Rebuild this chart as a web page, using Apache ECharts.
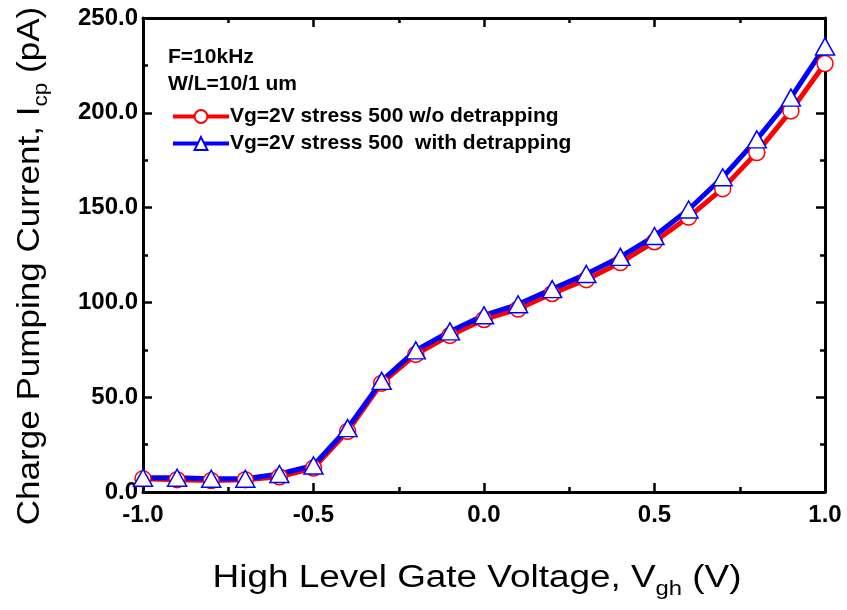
<!DOCTYPE html>
<html>
<head>
<meta charset="utf-8">
<script src="https://cdn.jsdelivr.net/npm/echarts@6/dist/echarts.min.js"></script>
<style>html,body{margin:0;padding:0;background:#fff}#c{width:847px;height:610px}</style>
</head>
<body>
<div id="c"></div>
<script>
var xValues = [-1.0,-0.9,-0.8,-0.7,-0.6,-0.5,-0.4,-0.3,-0.2,-0.1,0.0,0.1,0.2,0.3,0.4,0.5,0.6,0.7,0.8,0.9,1.0];
var redValues = [7,6.5,6,6.5,8,12.6,32,57.4,72.6,82.6,91,96.5,104.7,112,121,132,145,160,179,201,226];
var blueValues = [7.5,7.5,7,7,9.5,14,33.7,58.6,74.7,84.7,93.2,99,107,115,124,135,149,166,186,208,235];
var seriesNames = ['Vg=2V stress 500 w/o detrapping', 'Vg=2V stress 500  with detrapping'];
var noteLines = ['F=10kHz', 'W/L=10/1 um'];
var xTitle = ['High Level Gate Voltage, V', 'gh', ' (V)'];
var yTitle = ['Charge Pumping Current, I', 'cp', ' (pA)'];

function pairs(ys){ return xValues.map(function(x,i){ return [x, ys[i]]; }); }

var chart = echarts.init(document.getElementById('c'));
var axisLine = {show:true, onZero:false, lineStyle:{color:'#000', width:3}};
var tick = {show:true, inside:true, length:9, lineStyle:{color:'#000', width:2.5}};
var minor = {show:true, splitNumber:2, length:5, lineStyle:{color:'#000', width:2.5}};
var tickFont = {fontFamily:'Liberation Sans, Arial', fontWeight:'bold', fontSize:24, color:'#000'};
var titleRich = {
  a:{fontFamily:'Liberation Sans, Arial', fontSize:31, color:'#000'},
  s:{fontFamily:'Liberation Sans, Arial', fontSize:20, color:'#000', padding:[22,0,0,0]}
};

chart.setOption({
  animation:false,
  grid:{left:143, right:22, top:18, bottom:118, containLabel:false},
  legend:{
    orient:'vertical', left:166, top:101, itemGap:6, itemWidth:56, itemHeight:16,
    data:seriesNames,
    lineStyle:{width:4},
    textStyle:{fontFamily:'Liberation Sans, Arial', fontWeight:'bold', fontSize:21, color:'#000', padding:[0,0,0,-4]}
  },
  graphic:[
    {type:'text', left:168, top:47, style:{text:noteLines[0], font:'bold 21px "Liberation Sans", Arial', fill:'#000'}},
    {type:'text', left:168, top:74, style:{text:noteLines[1], font:'bold 21px "Liberation Sans", Arial', fill:'#000'}},
    {type:'text', x:477, y:578, scaleX:1.19, scaleY:1,
     style:{text:'{a|'+xTitle[0]+'}{s|'+xTitle[1]+'}{a|'+xTitle[2]+'}', rich:titleRich, align:'center', verticalAlign:'middle'}},
    {type:'text', x:30, y:266, rotation:Math.PI/2, scaleX:1.13, scaleY:1,
     style:{text:'{a|'+yTitle[0]+'}{s|'+yTitle[1]+'}{a|'+yTitle[2]+'}', rich:titleRich, align:'center', verticalAlign:'middle'}}
  ],
  xAxis:[{
    type:'value', min:-1, max:1, interval:0.5, position:'bottom',
    axisLine:axisLine, axisTick:tick, minorTick:minor, splitLine:{show:false},
    axisLabel:Object.assign({margin:11, formatter:function(v){return v.toFixed(1);}}, tickFont)
  },{
    type:'value', min:-1, max:1, interval:0.5, position:'top',
    axisLine:axisLine, axisTick:tick, minorTick:minor, splitLine:{show:false}, axisLabel:{show:false}
  }],
  yAxis:[{
    type:'value', min:0, max:250, interval:50, position:'left',
    axisLine:axisLine, axisTick:tick, minorTick:minor, splitLine:{show:false},
    axisLabel:Object.assign({margin:5, formatter:function(v){return v.toFixed(1);}}, tickFont)
  },{
    type:'value', min:0, max:250, interval:50, position:'right',
    axisLine:axisLine, axisTick:tick, minorTick:minor, splitLine:{show:false}, axisLabel:{show:false}
  }],
  series:[{
    name:seriesNames[0], type:'line', data:pairs(redValues),
    symbol:'circle', symbolSize:16, showAllSymbol:true,
    lineStyle:{color:'#ff0000', width:5},
    itemStyle:{color:'#fff', borderColor:'#ff0000', borderWidth:1.5}
  },{
    name:seriesNames[1], type:'line', data:pairs(blueValues),
    symbol:'triangle', symbolSize:[19,17], showAllSymbol:true,
    lineStyle:{color:'#0000ff', width:5},
    itemStyle:{color:'#fff', borderColor:'#0000ff', borderWidth:1.5}
  }]
});
</script>
</body>
</html>
